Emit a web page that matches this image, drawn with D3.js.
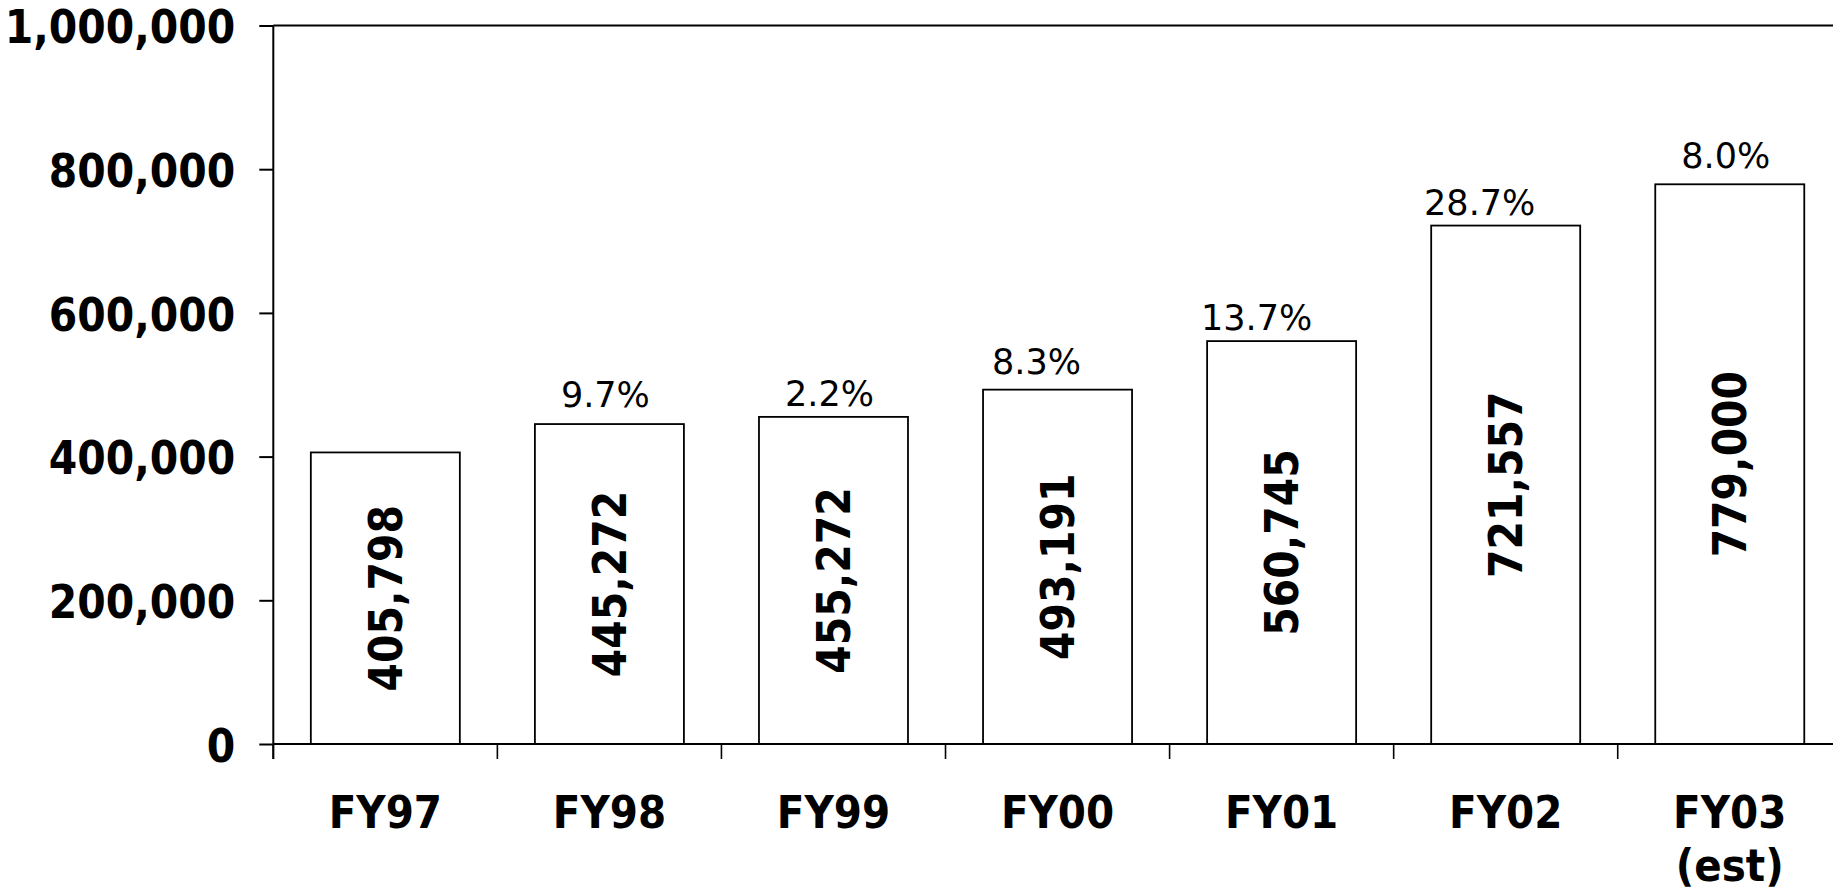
<!DOCTYPE html>
<html>
<head>
<meta charset="utf-8">
<script src="https://cdn.jsdelivr.net/npm/d3@7"></script>
<style>
  html, body { margin: 0; padding: 0; background: #fff; overflow: hidden; }
  svg { display: block; }
  .bold { font-family: "DejaVu Sans Condensed", "DejaVu Sans", sans-serif; font-weight: bold; }
  .pct { font-family: "DejaVu Sans", sans-serif; }
</style>
</head>
<body>
<div id="draw_svg"></div>
<script>
// chart data
const categories = ["FY97", "FY98", "FY99", "FY00", "FY01", "FY02", "FY03\n(est)"];
const values = [405798, 445272, 455272, 493191, 560745, 721557, 779000];
const growth = [null, 9.7, 2.2, 8.3, 13.7, 28.7, 8.0];
const yTicks = [0, 200000, 400000, 600000, 800000, 1000000];

// hand-placed label nudges from the original slide (x shift, gap above bar)
const pctDx = [0, -4, -4, -21, -25, -26, -4];
const pctGap = [0, 17, 11, 16, 11, 11, 16];

const W = 1833, H = 892;
const plot = { left: 273.3, top: 25.5, bottom: 744, right: 1841.8 };

pageInit = () => {
    const svg = d3.select('#draw_svg')
        .append('svg')
        .attr('width', W)
        .attr('height', H);

    const x = d3.scaleBand()
        .domain(categories)
        .range([plot.left, plot.right])
        .paddingInner(0.335)
        .paddingOuter(0.1675);

    const y = d3.scaleLinear()
        .domain([0, 1000000])
        .range([plot.bottom, plot.top]);

    // y axis ticks + labels
    const yAxis = svg.append('g')
        .attr('transform', `translate(${plot.left},0)`)
        .call(d3.axisLeft(y).tickValues(yTicks).tickFormat(d3.format(',')).tickSize(14).tickPadding(24));
    yAxis.select('.domain').remove();
    yAxis.selectAll('line').attr('stroke', '#000').attr('stroke-width', 2);
    yAxis.selectAll('text')
        .attr('class', 'bold')
        .attr('font-size', 45.5)
        .attr('fill', '#000')
        .attr('dy', '0.38em');

    // bars
    svg.append('g').selectAll('rect')
        .data(values)
        .enter()
        .append('rect')
        .attr('x', (d, i) => x(categories[i]))
        .attr('y', d => y(d))
        .attr('width', x.bandwidth())
        .attr('height', d => y(0) - y(d))
        .attr('fill', '#fff')
        .attr('stroke', '#000')
        .attr('stroke-width', 1.8);

    // frame: left axis, top border, baseline
    svg.append('line')
        .attr('x1', plot.left).attr('x2', plot.left)
        .attr('y1', y(1000000)).attr('y2', y(0) + 15)
        .attr('stroke', '#000').attr('stroke-width', 2);
    svg.append('line')
        .attr('x1', plot.left).attr('x2', plot.right)
        .attr('y1', y(1000000)).attr('y2', y(1000000))
        .attr('stroke', '#000').attr('stroke-width', 2);
    svg.append('line')
        .attr('x1', plot.left).attr('x2', plot.right)
        .attr('y1', y(0)).attr('y2', y(0))
        .attr('stroke', '#000').attr('stroke-width', 2);

    // x ticks at band boundaries
    const bounds = d3.range(categories.length + 1).map(i => plot.left + i * x.step());
    svg.append('g').selectAll('line')
        .data(bounds)
        .enter()
        .append('line')
        .attr('x1', d => d).attr('x2', d => d)
        .attr('y1', y(0)).attr('y2', y(0) + 15)
        .attr('stroke', '#000').attr('stroke-width', 1.6);

    // x labels
    const xl = svg.append('g').selectAll('text')
        .data(categories)
        .enter()
        .append('text')
        .attr('class', 'bold')
        .attr('font-size', 45)
        .attr('text-anchor', 'middle')
        .attr('x', d => x(d) + x.bandwidth() / 2)
        .attr('y', 828);
    xl.selectAll('tspan')
        .data(d => d.split('\n'))
        .enter()
        .append('tspan')
        .attr('x', function () { return d3.select(this.parentNode).attr('x'); })
        .attr('dy', (d, i) => i === 0 ? 0 : 53)
        .text(d => d);

    // values inside the bars, rotated
    svg.append('g').selectAll('text')
        .data(values)
        .enter()
        .append('text')
        .attr('class', 'bold')
        .attr('font-size', 45.5)
        .attr('text-anchor', 'middle')
        .attr('dy', '0.36em')
        .attr('transform', (d, i) => {
            const cx = x(categories[i]) + x.bandwidth() / 2;
            const cy = (y(d) + y(0)) / 2;
            return `translate(${cx},${cy}) rotate(-90)`;
        })
        .text(d => d3.format(',')(d));

    // growth percentages above bars
    const pctData = values
        .map((v, i) => ({ cat: categories[i], v, g: growth[i], dx: pctDx[i], gap: pctGap[i] }))
        .filter(d => d.g !== null);

    svg.append('g').selectAll('text')
        .data(pctData)
        .enter()
        .append('text')
        .attr('class', 'pct')
        .attr('font-size', 35)
        .attr('text-anchor', 'middle')
        .attr('x', d => x(d.cat) + x.bandwidth() / 2 + d.dx)
        .attr('y', d => y(d.v) - d.gap)
        .text(d => d3.format('.1f')(d.g) + '%');
}

window.onload = () => {
    pageInit();
}
</script>
</body>
</html>
